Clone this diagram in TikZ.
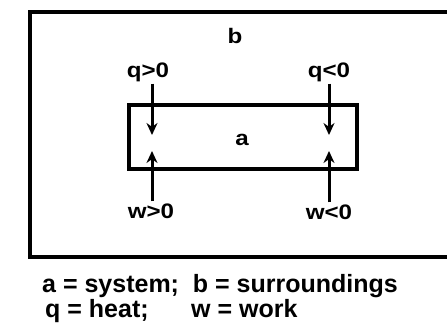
\documentclass[tikz,border=0pt]{standalone}
\usepackage{fontspec}
\setmainfont{Liberation Sans}
\newfontfamily\widefont[FakeStretch=1.15]{Liberation Sans}
\usetikzlibrary{arrows.meta}
\begin{document}
\begin{tikzpicture}[x=1pt,y=1pt,
  box/.style={draw=black,line width=3.5pt},
  lbl/.style={font=\widefont\bfseries\fontsize{21}{21}\selectfont,inner sep=0pt},
  legend/.style={font=\bfseries\fontsize{25}{25}\selectfont,inner sep=0pt,anchor=base west},
  flow/.style={line width=3pt,-{Stealth[length=12pt,width=11pt]}}]
\clip (0,0) rectangle (447,324);
\useasboundingbox (0,0) rectangle (447,324);
\fill[white] (0,0) rectangle (447,324);
\draw[box] (30,312) rectangle (470,67);
\draw[box] (129,219) rectangle (357,155);
\node[lbl] (b) at (235,288) {b};
\node[lbl] (a) at (242,184) {a};
\node[lbl] (qp) at (148,252) {q>0};
\node[lbl] (qn) at (329,252) {q<0};
\node[lbl] (wp) at (151,113) {w>0};
\node[lbl] (wn) at (329,112) {w<0};
\coordinate (tqp) at (152,189);
\coordinate (tqn) at (329,189);
\coordinate (twp) at (152,173);
\coordinate (twn) at (329,173);
\draw[flow] (qp.south -| tqp) ++(0,-2) -- (tqp);
\draw[flow] (qn.south -| tqn) ++(0,-2) -- (tqn);
\draw[flow] (wp.north -| twp) ++(0,2) -- (twp);
\draw[flow] (wn.north -| twn) ++(0,2) -- (twn);
\node[legend] (l1) at (42,31) {a = system;\ \ b = surroundings};
\node[legend] (l2) at (45,7) {q = heat;\hspace{1.7em}w = work};
\end{tikzpicture}
\end{document}
